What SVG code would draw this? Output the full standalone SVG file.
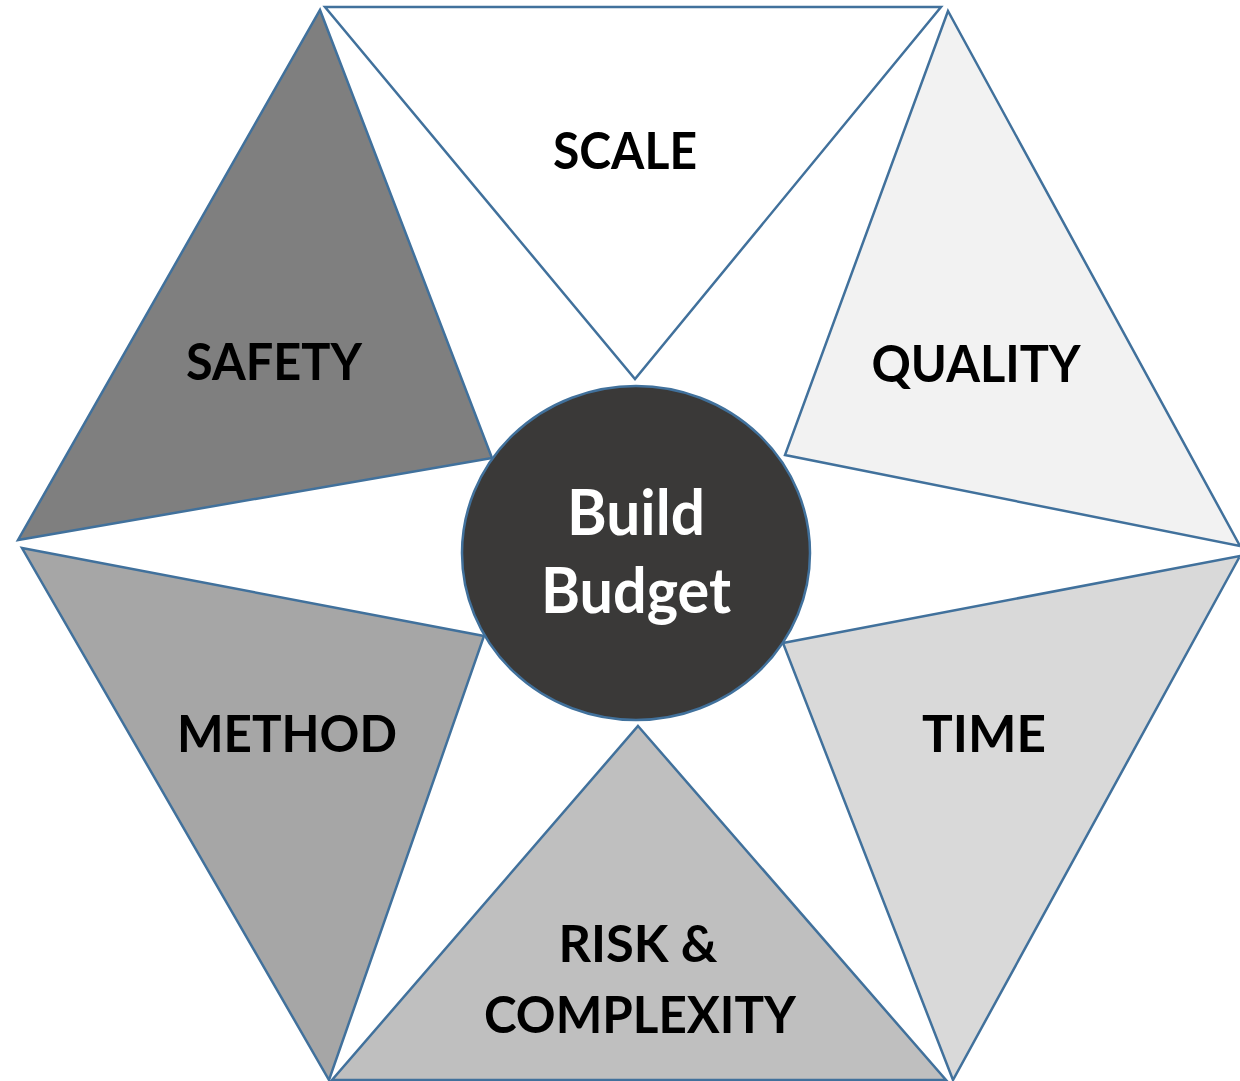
<svg xmlns="http://www.w3.org/2000/svg" width="1240" height="1081" viewBox="0 0 1240 1081">
<style>
.seg{stroke:#41719c;stroke-width:2.5;stroke-linejoin:miter}
.lbl{font-family:Lato,"Liberation Sans",sans-serif;font-weight:700;font-size:51px;fill:#000;text-anchor:middle}
.ctr{font-family:Lato,"Liberation Sans",sans-serif;font-weight:700;font-size:63px;fill:#fff;text-anchor:middle}
</style>
<rect width="1240" height="1081" fill="#fff"/>
<g id="scale"><polygon class="seg" fill="#ffffff" points="325,7 941,7 635,379"/><text class="lbl" x="625" y="169" textLength="144" lengthAdjust="spacingAndGlyphs">SCALE</text></g>
<g id="quality"><polygon class="seg" fill="#f2f2f2" points="948,11 1240,546 785,455"/><text class="lbl" x="976" y="382" textLength="209" lengthAdjust="spacingAndGlyphs">QUALITY</text></g>
<g id="time"><polygon class="seg" fill="#d9d9d9" points="1240,556 953,1080 783,643"/><text class="lbl" x="984" y="752" textLength="124" lengthAdjust="spacingAndGlyphs">TIME</text></g>
<g id="risk"><polygon class="seg" fill="#bfbfbf" points="638,726 946,1080 332,1080"/><text class="lbl" x="638" y="962" textLength="159" lengthAdjust="spacingAndGlyphs">RISK &amp;</text><text class="lbl" x="640" y="1033" textLength="312" lengthAdjust="spacingAndGlyphs">COMPLEXITY</text></g>
<g id="method"><polygon class="seg" fill="#a6a6a6" points="22,548 484,636 329,1080"/><text class="lbl" x="287" y="752" textLength="220" lengthAdjust="spacingAndGlyphs">METHOD</text></g>
<g id="safety"><polygon class="seg" fill="#7f7f7f" points="320,10 492,458 18,540"/><text class="lbl" x="274" y="380" textLength="176" lengthAdjust="spacingAndGlyphs">SAFETY</text></g>
<g id="build-budget"><ellipse cx="636" cy="553" rx="174" ry="167" fill="#3a3938" stroke="#41719c" stroke-width="2.5"/><text class="ctr" x="636" y="535" textLength="138" lengthAdjust="spacingAndGlyphs">Build</text><text class="ctr" x="636" y="613" textLength="190" lengthAdjust="spacingAndGlyphs">Budget</text></g>
<g id="connectors"></g>
</svg>
